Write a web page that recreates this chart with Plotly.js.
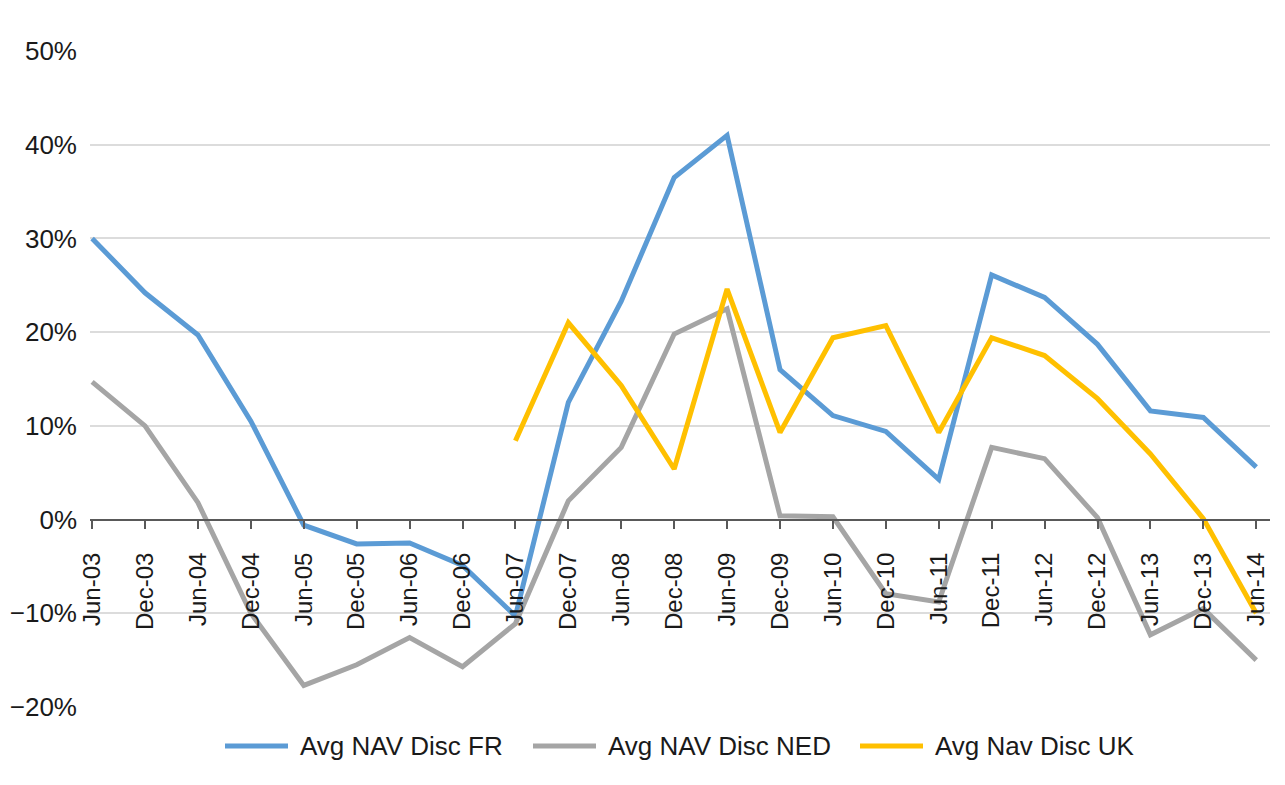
<!DOCTYPE html>
<html>
<head>
<meta charset="utf-8">
<script src="https://cdn.plot.ly/plotly-3.0.1.min.js"></script>
<style>html,body{margin:0;padding:0;background:#fff;}#chart{width:1285px;height:785px;}</style>
</head>
<body>
<div id="chart"></div>
<script>
const categories = ["Jun-03","Dec-03","Jun-04","Dec-04","Jun-05","Dec-05","Jun-06","Dec-06","Jun-07","Dec-07","Jun-08","Dec-08","Jun-09","Dec-09","Jun-10","Dec-10","Jun-11","Dec-11","Jun-12","Dec-12","Jun-13","Dec-13","Jun-14"];
const navDiscFR = [30.0,24.2,19.7,10.5,-0.6,-2.6,-2.5,-4.9,-10.3,12.5,23.3,36.5,41.0,16.0,11.1,9.4,4.3,26.1,23.7,18.7,11.6,10.9,5.6];
const navDiscNED = [14.7,10.0,1.8,-10.0,-17.7,-15.5,-12.6,-15.7,-11.1,2.0,7.7,19.8,22.5,0.4,0.3,-7.9,-8.8,7.7,6.5,0.2,-12.3,-9.5,-15.0];
const navDiscUK = [null,null,null,null,null,null,null,null,8.4,21.0,14.3,5.4,24.6,9.3,19.4,20.7,9.3,19.4,17.5,12.9,7.0,0.1,-10.0];
const seriesNames = ["Avg NAV Disc FR","Avg NAV Disc NED","Avg Nav Disc UK"];
const seriesColors = ["#5b9bd5","#a5a5a5","#ffc000"];

const W = 1285, H = 785;
const M = {l: 90, r: 15, t: 51, b: 78};
const xIdx = categories.map((c,i)=>i);
const font = {family: "Liberation Sans, Arial, Helvetica, sans-serif", color: "#1a1a1a"};
const FS = 26;
const series = [navDiscFR, navDiscNED, navDiscUK];
const data = series.map((y,k)=>({x: xIdx, y: y, name: seriesNames[k], type: "scatter", mode: "lines",
  line: {color: seriesColors[k], width: 5}, connectgaps: false, hoverinfo: "skip", showlegend: false}));

// custom legend (layout only)
const pw = W - M.l - M.r, ph = H - M.t - M.b;
const px2x = p => (p - M.l) / pw;
const py2y = p => (H - M.b - p) / ph;
const legendStarts = [225, 533, 860];
const legendY = 746;
const shapes = [], annotations = [];
seriesNames.forEach((n,k)=>{
  const x0 = legendStarts[k];
  shapes.push({type: "line", xref: "paper", yref: "paper", x0: px2x(x0), x1: px2x(x0+63), y0: py2y(legendY), y1: py2y(legendY),
    line: {color: seriesColors[k], width: 5}});
  annotations.push({xref: "paper", yref: "paper", x: px2x(x0+73), y: py2y(legendY), xanchor: "left", yanchor: "middle",
    text: n, showarrow: false, font: Object.assign({size: FS}, font)});
});

const yMin = -20, yMax = 50;
const layout = {
  width: W, height: H, margin: M,
  paper_bgcolor: "#fff", plot_bgcolor: "#fff",
  font: Object.assign({size: FS}, font),
  showlegend: false,
  shapes: shapes, annotations: annotations,
  xaxis: {
    type: "linear", range: [-0.04, 22.26],
    tickmode: "array", tickvals: xIdx, ticktext: categories,
    tickangle: -90, ticks: "outside", ticklen: 8, tickwidth: 2, tickcolor: "#595959",
    showline: true, linecolor: "#595959", linewidth: 2.5,
    showgrid: false, zeroline: false,
    anchor: "free", position: (0 - yMin) / (yMax - yMin),
    tickfont: Object.assign({size: 24}, font),
    ticklabelstandoff: 14
  },
  yaxis: {
    range: [yMin, yMax], dtick: 10, tick0: 0, ticksuffix: "%",
    showgrid: true, gridcolor: "#dcdcdc", gridwidth: 2,
    zeroline: false, showline: false, ticks: "",
    tickfont: Object.assign({size: FS}, font),
    ticklabelstandoff: 12
  }
};
Plotly.newPlot("chart", data, layout, {staticPlot: true, displayModeBar: false});
</script>
</body>
</html>
